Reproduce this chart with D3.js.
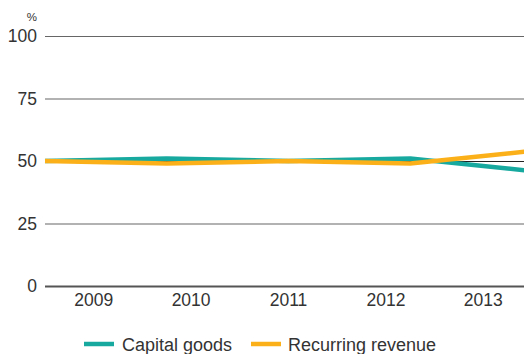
<!DOCTYPE html>
<html><head><meta charset="utf-8">
<script src="https://cdn.jsdelivr.net/npm/d3@7"></script>
<style>body{margin:0;background:#fff;overflow:hidden}svg{display:block}text{font-family:"Liberation Sans",Arial,sans-serif;fill:#333}</style>
</head><body><svg id="c" width="524" height="354"></svg>
<script>
const years = ["2009","2010","2011","2012","2013"];
const capitalGoods = [50, 51, 50, 51, 46];
const recurringRevenue = [50, 49, 50, 49, 54];
const yTicks = [0, 25, 50, 75, 100];
const seriesNames = ["Capital goods", "Recurring revenue"];
const colors = ["#17a99f", "#fbb01a"];

const svg = d3.select("#c");
const x0 = 45, x1 = 532;
const y = d3.scaleLinear().domain([0,100]).range([286,36]);
const xb = d3.scaleBand().domain(years).range([x0,x1]);
const xp = d3.scalePoint().domain(years).range([x0,x1]);

// gridlines
const yAxis = d3.axisLeft(y).tickValues(yTicks).tickSize(-(x1-x0)).tickPadding(8);
const gy = svg.append("g").attr("transform",`translate(${x0},0)`).call(yAxis);
gy.select(".domain").remove();
gy.selectAll(".tick line").attr("stroke",d=>d===0?"#555":(d===50?"#222":"#666")).attr("stroke-width",d=>d===0?2:1.2);
gy.selectAll(".tick text").attr("x",-8).style("font-size","17.5px").attr("fill","#333");

svg.append("text").attr("x",37).attr("y",21).attr("text-anchor","end").style("font-size","11.5px").text("%");

// x axis labels
const xAxis = d3.axisBottom(xb).tickSize(0).tickPadding(8);
const gx = svg.append("g").attr("transform","translate(0,286)").call(xAxis);
gx.select(".domain").remove();
gx.selectAll(".tick text").style("font-size","17.5px").attr("fill","#333");

const line = d3.line().x((d,i)=>xp(years[i])).y(d=>y(d));
[capitalGoods, recurringRevenue].forEach((s,k)=>{
  svg.append("path").datum(s).attr("d",line).attr("fill","none")
    .attr("stroke",colors[k]).attr("stroke-width",4.5).attr("stroke-linejoin","round");
});

// legend
const leg = [{x:84,tx:122},{x:251,tx:288}];
seriesNames.forEach((n,k)=>{
  svg.append("line").attr("x1",leg[k].x).attr("x2",leg[k].x+30).attr("y1",344).attr("y2",344)
    .attr("stroke",colors[k]).attr("stroke-width",4.5);
  svg.append("text").attr("x",leg[k].tx).attr("y",350.5).style("font-size","18px").text(n);
});
</script></body></html>
